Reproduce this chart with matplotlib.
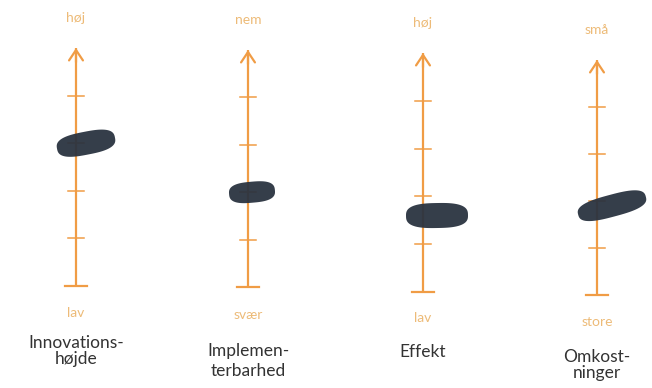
import matplotlib
matplotlib.use("Agg")
import numpy as np
import matplotlib.pyplot as plt
from matplotlib.patches import Polygon
from matplotlib.transforms import Affine2D, ScaledTranslation

# ---- data ----
categories = ["Innovations-\nhøjde", "Implemen-\nterbarhed", "Effekt", "Omkost-\nninger"]
top_labels = ["høj", "nem", "høj", "små"]
bottom_labels = ["lav", "svær", "lav", "store"]
values = [3.0, 2.0, 1.6, 1.9]
tick_values = [1, 2, 3, 4]
scale_max = 5

# ---- layout (pixels) ----
W, H = 652, 388
DPI = 100
axis_x = [76, 248, 423, 597]
axis_bottom = [286, 287, 292, 295]
axis_top = [48, 50, 53, 60]
blob_dx = [10, 4, 14, 15]
blob_len = [59, 46, 62, 70]
blob_thick = [23, 21, 25, 22]
blob_angle = [11, 5, 1, 15]
top_lab_y = [18, 20, 23, 30]
bottom_lab_y = [313, 315, 318, 322]
cat_y = [351, 361, 352, 365]
cat_ls = [1.05, 1.3, 1.05, 1.05]

LINE = "#F09C45"
LABEL = "#EDBB78"
BLOB = "#2A3340"
TEXT = "#333333"
FONT = ["Lato", "DejaVu Sans"]

fig = plt.figure(figsize=(W / DPI, H / DPI), dpi=DPI)
fig.patch.set_facecolor("white")

# superellipse outline (unit), used for the marker-like blobs
_t = np.linspace(0, 2 * np.pi, 200)
_n = 2.8
_ux = np.sign(np.cos(_t)) * np.abs(np.cos(_t)) ** (2 / _n)
_uy = np.sign(np.sin(_t)) * np.abs(np.sin(_t)) ** (2 / _n)

for i in range(4):
    x = axis_x[i]
    half = 50
    left = (x - half) / W
    bottom = 1 - axis_bottom[i] / H
    height = (axis_bottom[i] - axis_top[i]) / H
    ax = fig.add_axes([left, bottom, 2 * half / W, height])
    ax.set_xlim(-half, half)
    ax.set_ylim(0, scale_max)
    ax.axis("off")

    lw = 1.6
    ax.plot([0, 0], [0, scale_max], color=LINE, lw=lw, solid_capstyle="butt",
            clip_on=False, zorder=2)
    ax.plot([-11, 11], [0, 0], color=LINE, lw=lw, clip_on=False, zorder=2)
    for t in tick_values:
        ax.plot([-8, 8], [t, t], color=LINE, lw=1.1, clip_on=False, zorder=2)
    ax.annotate("", xy=(0, scale_max), xytext=(0, scale_max - 0.3),
                arrowprops=dict(arrowstyle="->,head_length=0.75,head_width=0.5",
                                color=LINE, lw=lw, shrinkA=0, shrinkB=0),
                annotation_clip=False, zorder=2)

    # blob centred on the value
    L = blob_len[i] / DPI
    T = blob_thick[i] / DPI
    pts = np.column_stack([_ux * L / 2, _uy * T / 2])
    tr = (Affine2D().rotate_deg(blob_angle[i]) + fig.dpi_scale_trans +
          ScaledTranslation(blob_dx[i], values[i], ax.transData))
    blob = Polygon(pts, closed=True, transform=tr, facecolor=BLOB,
                   edgecolor="none", alpha=0.95, zorder=3, clip_on=False)
    ax.add_patch(blob)

    fig.text(x / W, 1 - top_lab_y[i] / H, top_labels[i], ha="center", va="center",
             color=LABEL, fontsize=10, family=FONT)
    fig.text(x / W, 1 - bottom_lab_y[i] / H, bottom_labels[i], ha="center",
             va="center", color=LABEL, fontsize=10, family=FONT)
    fig.text(x / W, 1 - cat_y[i] / H, categories[i], ha="center", va="center",
             color=TEXT, fontsize=12.5, family=FONT, linespacing=cat_ls[i],
             multialignment="center")

fig.savefig("out.png", dpi=DPI, facecolor="white")
